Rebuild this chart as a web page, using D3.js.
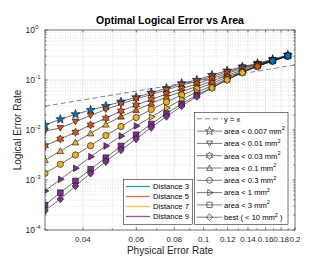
<!DOCTYPE html>
<html>
<head>
<meta charset="utf-8">
<script src="https://cdn.jsdelivr.net/npm/d3@7"></script>
<style>
  body { margin: 0; background: #fff; }
  svg { display: block; font-family: "Liberation Sans", Arial, sans-serif; }
</style>
</head>
<body>
<div id="chart"></div>
<script>
// physical error rate (x)
const physRate = [0.0300, 0.0337, 0.0378, 0.0424, 0.0476, 0.0534, 0.0599, 0.0672, 0.0754,
                  0.0846, 0.0949, 0.1065, 0.1195, 0.1341, 0.1505, 0.1688, 0.1894];

// logical error rate per area budget
const errA0007 = [0.01259, 0.01637, 0.02061, 0.02512, 0.0302, 0.03681, 0.04508, 0.05572, 0.06823,
                  0.0859, 0.1, 0.1259, 0.1535, 0.1845, 0.2158, 0.2594, 0.3162];
const errA001  = [0.00955, 0.01096, 0.01466, 0.0195, 0.0257, 0.0331, 0.0417, 0.0513, 0.0631,
                  0.0794, 0.0933, 0.1175, 0.1445, 0.1778, 0.2089, 0.2512, 0.309];
const errA003  = [0.00485, 0.00661, 0.00899, 0.01259, 0.01714, 0.02399, 0.03162, 0.04074, 0.05248,
                  0.06761, 0.08318, 0.1072, 0.1349, 0.1698, 0.2042, 0.2477, 0.3062];
const errA01   = [0.002512, 0.003802, 0.005675, 0.00859, 0.01288, 0.01862, 0.02512, 0.03388, 0.04571,
                  0.05888, 0.07413, 0.0955, 0.123, 0.1585, 0.1995, 0.2455, 0.3048];
const errA03   = [0.001361, 0.002061, 0.003162, 0.00485, 0.00776, 0.01175, 0.01778, 0.0257, 0.03631,
                  0.05012, 0.06607, 0.08511, 0.1148, 0.1479, 0.195, 0.2432, 0.302];
const errA1    = [0.000603, 0.001033, 0.001714, 0.002924, 0.004786, 0.007586, 0.01202, 0.0182, 0.02754,
                  0.04074, 0.05754, 0.07586, 0.1072, 0.1445, 0.1905, 0.2399, 0.302];
const errA3    = [0.000316, 0.000557, 0.000955, 0.001637, 0.002793, 0.004786, 0.008017, 0.01318, 0.02138,
                  0.03311, 0.05012, 0.07079, 0.1023, 0.1413, 0.1888, 0.2399, 0.302];
const errBest  = [0.000245, 0.000417, 0.000759, 0.001361, 0.002323, 0.003981, 0.00661, 0.01122, 0.01862,
                  0.0302, 0.04677, 0.06918, 0.1, 0.14, 0.1879, 0.2399, 0.302];

// chosen code distance for every point
const distA0007 = [3,3,3,3,3,3,3,3,3,3,3,3,3,3,3,3,3];
const distA001  = [5,5,5,5,5,5,5,5,5,5,5,5,5,3,3,3,3];
const distA003  = [5,5,5,5,5,5,5,5,5,5,5,5,5,5,5,3,3];
const distA01   = [7,7,7,7,7,5,5,5,5,5,5,5,5,5,5,3,3];
const distA03   = [7,7,7,7,7,7,7,7,7,7,7,5,5,5,5,3,3];
const distA1    = [9,9,9,9,9,9,9,7,7,7,7,7,7,7,5,3,3];
const distA3    = [9,9,9,9,9,9,9,9,9,9,9,7,7,7,5,3,3];
const distBest  = [9,9,9,9,9,9,9,9,9,9,9,7,7,7,5,3,3];

const distances = [3, 5, 7, 9];
const distColors = {3: "#0072BD", 5: "#D95319", 7: "#EDB120", 9: "#7E2F8E"};

const xTicks = [0.04, 0.06, 0.08, 0.1, 0.12, 0.14, 0.16, 0.18, 0.2];
const xTickLabels = ["0.04", "0.06", "0.08", "0.1", "0.12", "0.14", "0.16", "0.18", "0.2"];
const yTicks = [1e-4, 1e-3, 1e-2, 1e-1, 1];
const yTickExp = ["-4", "-3", "-2", "-1", "0"];

const series = [
  {name: "area < 0.007 mm", marker: "star",  vals: errA0007, dist: distA0007},
  {name: "area < 0.01 mm",  marker: "tdown", vals: errA001,  dist: distA001},
  {name: "area < 0.03 mm",  marker: "hex",   vals: errA003,  dist: distA003},
  {name: "area < 0.1 mm",   marker: "tup",   vals: errA01,   dist: distA01},
  {name: "area < 0.3 mm",   marker: "circ",  vals: errA03,   dist: distA03},
  {name: "area < 1 mm",     marker: "tright",vals: errA1,    dist: distA1},
  {name: "area < 3 mm",     marker: "sq",    vals: errA3,    dist: distA3},
  {name: "best ( < 10 mm",  marker: "diam",  vals: errBest,  dist: distBest, tail: " )"}
];

const W = 329, H = 261;
const m = {left: 45, right: 295, top: 30, bottom: 230};

const x = d3.scaleLog().domain([0.03, 0.2]).range([m.left, m.right]);
const y = d3.scaleLog().domain([1e-4, 1]).range([m.bottom, m.top]);

const svg = d3.select("#chart").append("svg").attr("width", W).attr("height", H);

svg.append("clipPath").attr("id", "clip")
  .append("rect").attr("x", m.left).attr("y", m.top)
  .attr("width", m.right - m.left).attr("height", m.bottom - m.top);

// grid
const xMinor = d3.range(3, 21).map(d => d / 100).filter(v => !xTicks.some(t => Math.abs(t - v) < 1e-9));
const yMinor = [];
[-4, -3, -2, -1].forEach(e => { for (let k = 2; k <= 9; k++) yMinor.push(k * Math.pow(10, e)); });

const grid = svg.append("g");
grid.selectAll(".xm").data(xMinor).enter().append("line")
  .attr("x1", d => x(d)).attr("x2", d => x(d)).attr("y1", m.top).attr("y2", m.bottom)
  .attr("stroke", "#cfcfcf").attr("stroke-width", 0.6).attr("stroke-dasharray", "1,1.5");
grid.selectAll(".ym").data(yMinor).enter().append("line")
  .attr("y1", d => y(d)).attr("y2", d => y(d)).attr("x1", m.left).attr("x2", m.right)
  .attr("stroke", "#cfcfcf").attr("stroke-width", 0.6).attr("stroke-dasharray", "1,1.5");
grid.selectAll(".xM").data(xTicks).enter().append("line")
  .attr("x1", d => x(d)).attr("x2", d => x(d)).attr("y1", m.top).attr("y2", m.bottom)
  .attr("stroke", "#e3e3e3").attr("stroke-width", 0.7);
grid.selectAll(".yM").data(yTicks).enter().append("line")
  .attr("y1", d => y(d)).attr("y2", d => y(d)).attr("x1", m.left).attr("x2", m.right)
  .attr("stroke", "#e3e3e3").attr("stroke-width", 0.7);

// marker shapes
function markerPath(type, r) {
  const pts = [];
  if (type === "star" || type === "hex") {
    const n = type === "star" ? 5 : 6;
    const ro = type === "star" ? r * 1.35 : r * 1.15;
    const ri = type === "star" ? ro * 0.42 : ro * 0.58;
    for (let i = 0; i < n * 2; i++) {
      const a = -Math.PI / 2 + i * Math.PI / n;
      const rr = i % 2 === 0 ? ro : ri;
      pts.push([rr * Math.cos(a), rr * Math.sin(a)]);
    }
  } else if (type === "tup" || type === "tdown" || type === "tright") {
    const base = {tup: -Math.PI / 2, tdown: Math.PI / 2, tright: 0}[type];
    for (let i = 0; i < 3; i++) {
      const a = base + i * 2 * Math.PI / 3;
      pts.push([r * 1.1 * Math.cos(a), r * 1.1 * Math.sin(a) + (type === "tup" ? r * 0.2 : type === "tdown" ? -r * 0.2 : 0)]);
    }
  } else if (type === "sq") {
    const s = r * 0.82;
    pts.push([-s, -s], [s, -s], [s, s], [-s, s]);
  } else if (type === "diam") {
    const s = r * 1.1;
    pts.push([0, -s], [s * 0.85, 0], [0, s], [-s * 0.85, 0]);
  } else {
    const c = r * 0.9;
    return `M${c},0A${c},${c} 0 1,1 ${-c},0A${c},${c} 0 1,1 ${c},0Z`;
  }
  return "M" + pts.map(p => p[0].toFixed(2) + "," + p[1].toFixed(2)).join("L") + "Z";
}

const plot = svg.append("g").attr("clip-path", "url(#clip)");

// y = x reference
plot.append("line")
  .attr("x1", x(0.03)).attr("y1", y(0.03)).attr("x2", x(0.2)).attr("y2", y(0.2))
  .attr("stroke", "#666").attr("stroke-width", 0.8).attr("stroke-dasharray", "5,3");

const line = d3.line().x(d => x(d[0])).y(d => y(d[1]));
const R = 3.5;

series.forEach(s => {
  const pts = physRate.map((p, i) => [p, s.vals[i], s.dist[i]]);
  plot.append("path").datum(pts).attr("d", line)
    .attr("fill", "none").attr("stroke", "#111").attr("stroke-width", 0.6);
  plot.selectAll(null).data(pts).enter().append("path")
    .attr("d", markerPath(s.marker, R))
    .attr("transform", d => `translate(${x(d[0])},${y(d[1])})`)
    .attr("fill", d => distColors[d[2]])
    .attr("stroke", "#111").attr("stroke-width", 0.6);
});

// axes box and ticks
const axc = "#262626";
svg.append("rect").attr("x", m.left).attr("y", m.top)
  .attr("width", m.right - m.left).attr("height", m.bottom - m.top)
  .attr("fill", "none").attr("stroke", axc).attr("stroke-width", 0.6);

const ticks = svg.append("g").attr("stroke", axc).attr("stroke-width", 0.6);
xTicks.forEach(t => {
  ticks.append("line").attr("x1", x(t)).attr("x2", x(t)).attr("y1", m.bottom).attr("y2", m.bottom - 2.5);
  ticks.append("line").attr("x1", x(t)).attr("x2", x(t)).attr("y1", m.top).attr("y2", m.top + 2.5);
});
xMinor.forEach(t => {
  ticks.append("line").attr("x1", x(t)).attr("x2", x(t)).attr("y1", m.bottom).attr("y2", m.bottom - 1.5);
  ticks.append("line").attr("x1", x(t)).attr("x2", x(t)).attr("y1", m.top).attr("y2", m.top + 1.5);
});
yTicks.forEach(t => {
  ticks.append("line").attr("y1", y(t)).attr("y2", y(t)).attr("x1", m.left).attr("x2", m.left + 2.5);
  ticks.append("line").attr("y1", y(t)).attr("y2", y(t)).attr("x1", m.right).attr("x2", m.right - 2.5);
});
yMinor.forEach(t => {
  ticks.append("line").attr("y1", y(t)).attr("y2", y(t)).attr("x1", m.left).attr("x2", m.left + 1.5);
  ticks.append("line").attr("y1", y(t)).attr("y2", y(t)).attr("x1", m.right).attr("x2", m.right - 1.5);
});

// tick labels
svg.selectAll(".xl").data(xTicks).enter().append("text")
  .attr("x", d => x(d)).attr("y", m.bottom + 12)
  .attr("text-anchor", "middle").attr("font-size", 8).attr("fill", axc)
  .text((d, i) => xTickLabels[i]);

yTicks.forEach((t, i) => {
  svg.append("text").attr("x", 35).attr("y", y(t) + 3)
    .attr("text-anchor", "end").attr("font-size", 8.5).attr("fill", axc).text("10");
  svg.append("text").attr("x", 35.3).attr("y", y(t) - 1.5)
    .attr("font-size", 6).attr("fill", axc).text(yTickExp[i]);
});

// titles
svg.append("text").attr("x", 170).attr("y", 24).attr("text-anchor", "middle")
  .attr("font-size", 10.5).attr("font-weight", "bold").attr("fill", "#000")
  .text("Optimal Logical Error vs Area");
svg.append("text").attr("x", 170).attr("y", 254).attr("text-anchor", "middle")
  .attr("font-size", 10).attr("fill", axc).text("Physical Error Rate");
svg.append("text").attr("transform", "translate(21,130) rotate(-90)").attr("text-anchor", "middle")
  .attr("font-size", 10).attr("fill", axc).text("Logical Error Rate");

// distance legend
const lg1 = svg.append("g");
lg1.append("rect").attr("x", 123.5).attr("y", 179.5).attr("width", 69).attr("height", 45)
  .attr("fill", "#fff").attr("stroke", axc).attr("stroke-width", 0.6);
distances.forEach((d, i) => {
  const yy = 186.5 + i * 10;
  lg1.append("line").attr("x1", 126).attr("x2", 150).attr("y1", yy).attr("y2", yy)
    .attr("stroke", distColors[d]).attr("stroke-width", 1.3).attr("opacity", 0.8);
  lg1.append("text").attr("x", 153).attr("y", yy + 2.8).attr("font-size", 7.6).attr("fill", "#000")
    .text("Distance " + d);
});

// area legend
const lg2 = svg.append("g");
lg2.append("rect").attr("x", 194.5).attr("y", 112.5).attr("width", 93.5).attr("height", 112)
  .attr("fill", "#fff").attr("stroke", axc).attr("stroke-width", 0.6);
const rowY = i => 118.8 + i * 12.3;
lg2.append("line").attr("x1", 197).attr("x2", 222).attr("y1", rowY(0)).attr("y2", rowY(0))
  .attr("stroke", "#666").attr("stroke-width", 0.8).attr("stroke-dasharray", "5,3");
lg2.append("text").attr("x", 224).attr("y", rowY(0) + 2.8).attr("font-size", 7.6).text("y = x");
series.forEach((s, i) => {
  const yy = rowY(i + 1);
  lg2.append("line").attr("x1", 197).attr("x2", 222).attr("y1", yy).attr("y2", yy)
    .attr("stroke", "#222").attr("stroke-width", 0.6);
  lg2.append("path").attr("d", markerPath(s.marker, 3.2))
    .attr("transform", `translate(209.5,${yy})`)
    .attr("fill", "none").attr("stroke", "#111").attr("stroke-width", 0.6);
  const t = lg2.append("text").attr("x", 224).attr("y", yy + 2.8).attr("font-size", 7.6);
  t.append("tspan").text(s.name);
  t.append("tspan").attr("dy", -3.5).attr("font-size", 5.5).text("2");
  if (s.tail) t.append("tspan").attr("dy", 3.5).text(s.tail);
});
</script>
</body>
</html>
